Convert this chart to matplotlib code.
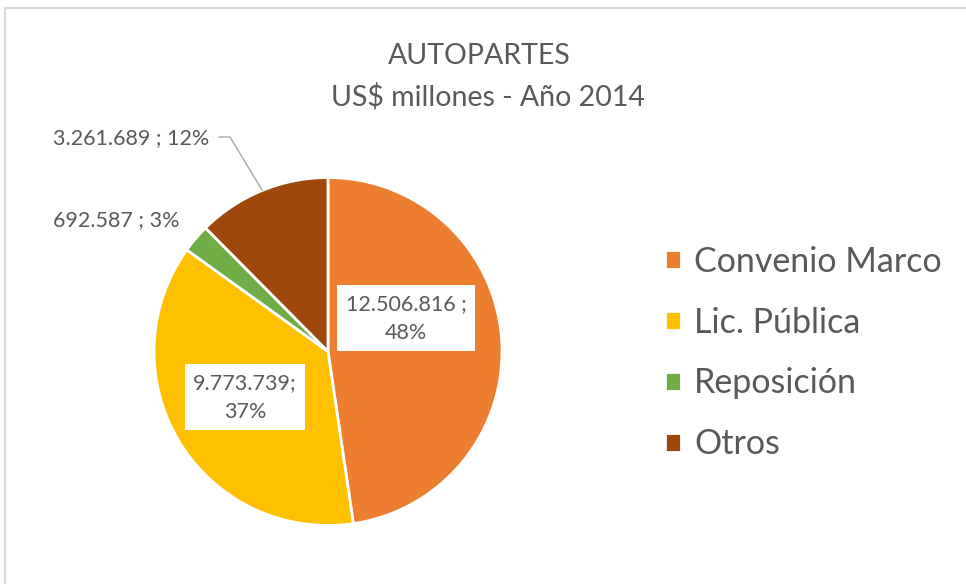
import matplotlib
matplotlib.use("Agg")
import matplotlib.pyplot as plt
from matplotlib.patches import Rectangle
from matplotlib.lines import Line2D

categories = ["Convenio Marco", "Lic. Pública", "Reposición", "Otros"]
values = [12506816, 9773739, 692587, 3261689]
colors = ["#ED7D31", "#FFC000", "#70AD47", "#9E480E"]
title = "AUTOPARTES"
subtitle = "US$ millones - Año 2014"

W, H = 966, 584
plt.rcParams['font.family'] = ['Lato', 'DejaVu Sans']
fig = plt.figure(figsize=(W / 100, H / 100), dpi=100)
fig.patch.set_facecolor("white")

def fx(px):
    return px / W

def fy(py):
    return 1 - py / H

# chart border (top & left visible)
fig.patches.append(Rectangle((fx(4.5), fy(H + 20)), fx(W + 40), (H + 20 - 8.5) / H,
                             transform=fig.transFigure, fill=False,
                             edgecolor="#D9D9D9", linewidth=1.5))

cx, cy, r = 328, 351.5, 174
ax = fig.add_axes([fx(cx - r), fy(cy + r), 2 * r / W, 2 * r / H])
ax.axis("off")

wedges, _ = ax.pie(values, colors=colors, startangle=90, counterclock=False,
                   radius=1, wedgeprops=dict(edgecolor="white", linewidth=2))
ax.set_xlim(-1, 1)
ax.set_ylim(-1, 1)

total = sum(values)

def fmt(v):
    return f"{v:,}".replace(",", ".")

txtc = "#595959"
fs = 15.5
# inside labels
inside_pos = {0: (0.448, 0.19), 1: (-0.477, -0.264)}
for i, (x, y) in inside_pos.items():
    pct = round(values[i] / total * 100)
    sep = " ;" if i == 0 else ";"
    ax.text(x, y, f"{fmt(values[i])}{sep}\n{pct}%", ha="center", va="center",
            fontsize=fs, color=txtc, linespacing=1.55,
            bbox=dict(boxstyle="square,pad=0.4", facecolor="white", edgecolor="none"))

# outside labels
outside_pos = {3: (53, 138), 2: (53, 220)}
for i, (px, py) in outside_pos.items():
    pct = round(values[i] / total * 100)
    fig.text(fx(px), fy(py), f"{fmt(values[i])} ; {pct}%", ha="left", va="center",
             fontsize=15.5, color=txtc)

# leader line for Otros
fig.lines.append(Line2D([fx(219), fx(230), fx(262)], [fy(137), fy(137), fy(190)],
                        transform=fig.transFigure, color="#A6A6A6", linewidth=1))

fig.text(fx(479), fy(56), title, ha="center", va="center", fontsize=20.5, color=txtc)
fig.text(fx(488), fy(97), subtitle, ha="center", va="center", fontsize=20.5, color=txtc)

leg = fig.legend(wedges, categories, loc="center left",
                 bbox_to_anchor=(fx(665), fy(353)), frameon=False,
                 fontsize=24.5, labelcolor=txtc, handlelength=0.47, handleheight=0.47,
                 handletextpad=0.38, labelspacing=0.85, borderpad=0, borderaxespad=0)

fig.savefig("out.png", dpi=100, facecolor="white")
